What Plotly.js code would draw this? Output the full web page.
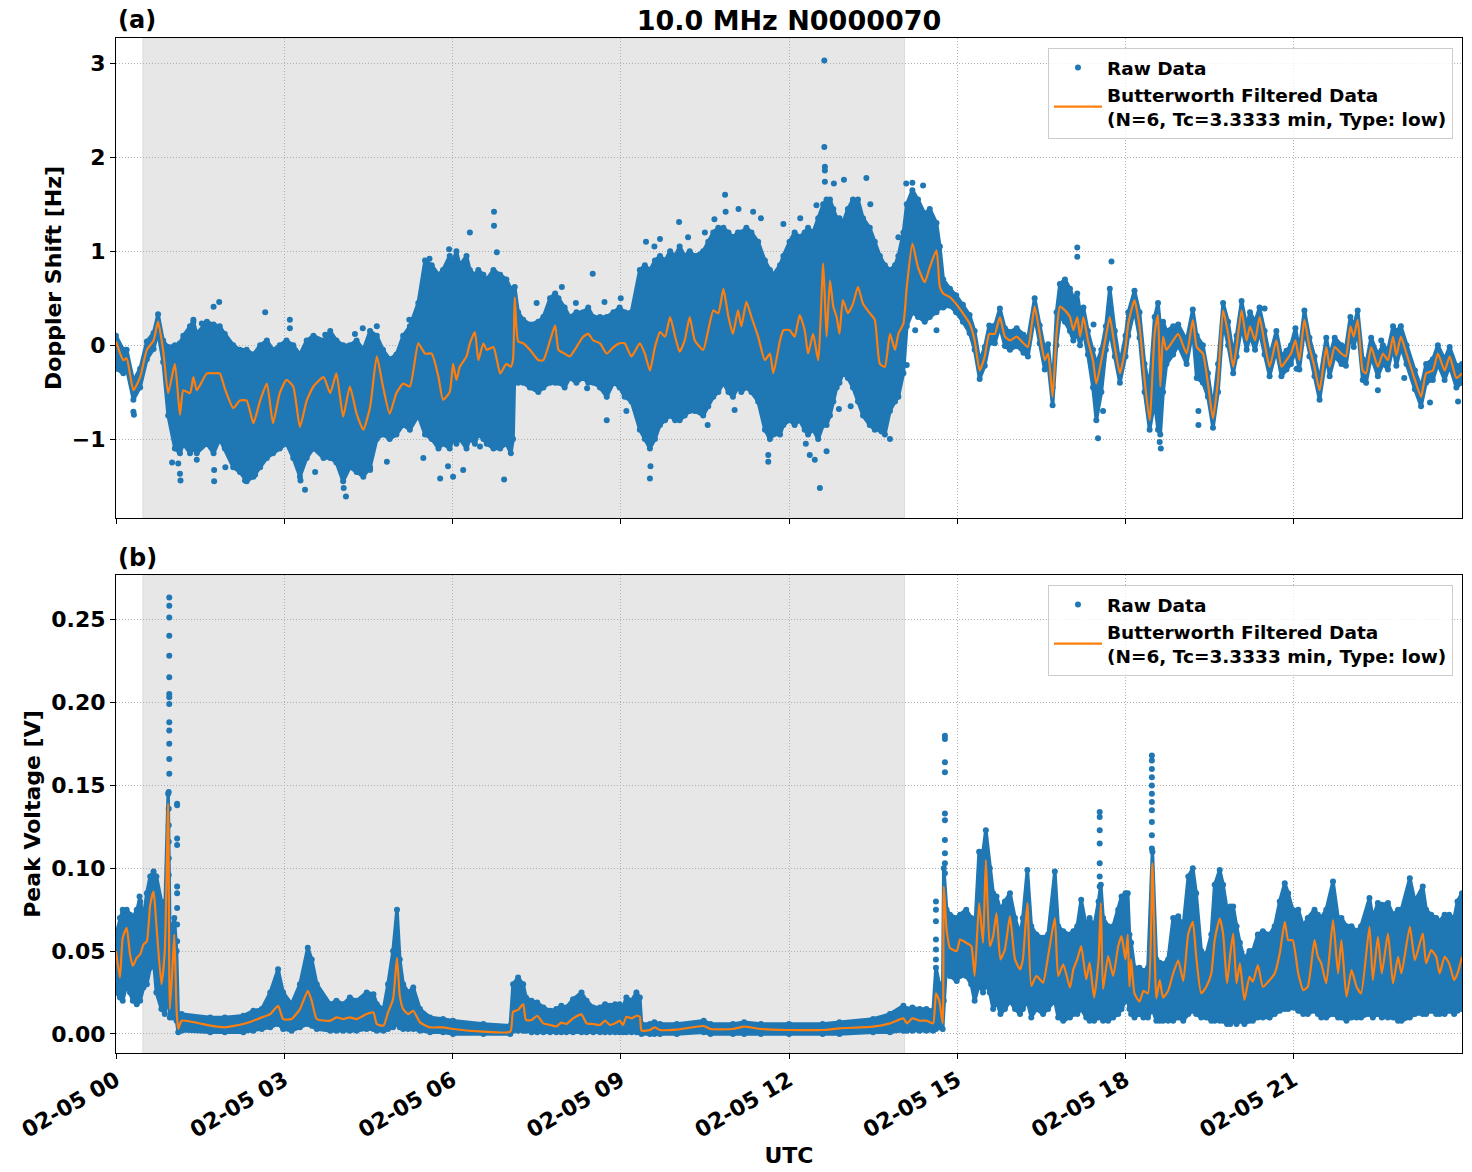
<!DOCTYPE html>
<html>
<head>
<meta charset="utf-8">
<script src="https://cdn.plot.ly/plotly-3.0.1.min.js"></script>
<style>html,body{margin:0;padding:0;background:#fff;}#chart{width:1472px;height:1172px;}</style>
</head>
<body>
<div id="chart"></div>
<script>
// ---------------- DATA (hours after 2024-02-05 00:00 UTC) ----------------
// Panel (a): Doppler shift [Hz]
const tA = [0.00,0.13,0.19,0.31,0.43,0.55,0.67,0.75,0.84,0.93,
 1.05,1.14,1.20,1.32,1.38,1.44,1.62,1.74,1.85,1.94,
 2.09,2.21,2.33,2.45,2.57,2.69,2.80,2.92,3.04,3.16,
 3.28,3.40,3.52,3.70,3.82,3.93,4.05,4.17,4.29,4.41,
 4.53,4.65,4.76,4.88,5.00,5.12,5.24,5.39,5.51,5.63,
 5.75,5.83,5.95,6.01,6.07,6.13,6.25,6.31,6.40,6.46,
 6.55,6.61,6.73,6.85,6.96,7.04,7.08,7.11,7.17,7.26,
 7.38,7.53,7.62,7.74,7.83,7.89,8.00,8.09,8.21,8.33,
 8.42,8.51,8.63,8.75,8.87,8.98,9.07,9.19,9.34,9.43,
 9.52,9.61,9.70,9.79,9.88,9.97,10.05,10.14,10.23,10.32,
 10.47,10.56,10.65,10.74,10.83,10.92,11.00,11.09,11.15,11.24,
 11.33,11.45,11.57,11.66,11.72,11.84,11.90,12.01,12.10,12.19,
 12.28,12.34,12.43,12.52,12.61,12.67,12.73,12.79,12.85,12.90,
 12.96,13.05,13.14,13.23,13.32,13.44,13.53,13.62,13.71,13.80,
 13.89,13.95,14.04,14.10,14.20,14.30,14.42,14.51,14.63,14.69,
 14.75,14.87,14.98,15.10,15.22,15.31,15.40,15.49,15.57,15.67,
 15.76,15.85,15.94,16.06,16.18,16.26,16.38,16.47,16.56,16.62,
 16.70,16.77,16.83,16.92,17.01,17.07,17.14,17.19,17.25,17.33,
 17.42,17.48,17.57,17.65,17.72,17.81,17.90,18.00,18.05,18.16,
 18.25,18.34,18.43,18.52,18.58,18.62,18.67,18.73,18.85,18.94,
 19.09,19.20,19.27,19.38,19.47,19.56,19.65,19.74,19.83,19.92,
 19.98,20.07,20.16,20.22,20.31,20.39,20.48,20.57,20.69,20.78,
 20.87,20.95,21.03,21.10,21.19,21.28,21.37,21.46,21.58,21.64,
 21.73,21.85,21.93,22.01,22.07,22.14,22.23,22.29,22.38,22.50,
 22.59,22.68,22.77,22.83,22.91,23.01,23.16,23.27,23.36,23.48,
 23.57,23.69,23.78,23.90,24.00];
const filtA = [0.04,-0.16,-0.14,-0.48,-0.34,-0.05,0.05,0.25,-0.05,-0.51,
 -0.20,-0.74,-0.48,-0.51,-0.34,-0.48,-0.30,-0.30,-0.30,-0.46,
 -0.67,-0.59,-0.59,-0.83,-0.59,-0.41,-0.83,-0.51,-0.37,-0.44,
 -0.87,-0.59,-0.44,-0.34,-0.51,-0.30,-0.76,-0.44,-0.73,-0.90,
 -0.66,-0.12,-0.44,-0.73,-0.51,-0.41,-0.44,0.02,-0.09,-0.09,
 -0.34,-0.58,-0.50,-0.20,-0.37,-0.23,-0.12,0.02,0.14,-0.16,
 0.02,-0.05,-0.02,-0.30,-0.20,-0.23,-0.15,0.51,0.04,0.02,
 -0.05,-0.16,-0.16,0.05,0.21,-0.05,-0.09,-0.12,-0.02,0.09,
 0.12,0.05,0.02,-0.09,-0.02,0.02,0.02,-0.12,0.02,-0.09,
 -0.27,-0.02,0.14,0.09,0.30,0.09,-0.07,0.05,0.30,0.05,
 -0.05,0.16,0.37,0.34,0.60,0.30,0.12,0.37,0.20,0.46,
 0.30,0.09,-0.16,-0.09,-0.30,0.05,0.16,0.16,0.09,0.32,
 0.16,-0.09,0.12,-0.16,0.87,0.09,0.69,0.41,0.30,0.12,
 0.48,0.34,0.44,0.62,0.44,0.34,0.27,-0.20,-0.23,0.12,
 -0.05,0.12,0.23,0.62,1.08,0.83,0.67,0.83,1.01,0.62,
 0.55,0.51,0.44,0.34,0.23,0.05,-0.27,-0.12,0.12,0.12,
 0.30,0.09,0.05,0.09,0.02,-0.02,0.41,0.12,-0.16,-0.09,
 -0.55,0.12,0.41,0.37,0.30,0.16,0.30,0.09,0.30,0.05,
 -0.16,-0.41,-0.16,0.09,0.30,-0.02,-0.30,-0.02,0.23,0.48,
 0.20,-0.37,-0.80,0.12,0.32,-0.44,0.09,-0.05,0.05,0.12,
 -0.09,0.27,-0.02,-0.09,-0.41,-0.78,-0.37,0.37,0.12,-0.23,
 -0.02,0.37,0.05,0.20,0.05,0.30,0.02,-0.23,0.05,-0.23,
 -0.16,-0.09,0.05,-0.16,0.27,-0.02,-0.23,-0.48,-0.02,-0.23,
 -0.02,-0.09,-0.12,0.20,0.09,0.27,-0.27,-0.30,-0.02,-0.23,
 -0.09,-0.16,0.09,-0.11,0.09,-0.09,-0.37,-0.55,-0.30,-0.27,
 -0.09,-0.27,-0.12,-0.35,-0.30];
const rawHiA = [0.10,-0.05,-0.05,-0.38,-0.25,0.04,0.13,0.33,0.05,-0.02,
 0.00,0.02,0.10,0.20,0.25,0.12,0.25,0.22,0.20,0.12,
 0.00,-0.05,-0.05,-0.10,0.00,0.05,-0.05,0.00,0.05,0.00,
 -0.10,0.05,0.10,0.05,0.15,0.05,0.00,0.00,0.05,-0.05,
 0.15,0.10,-0.05,-0.15,-0.10,0.10,0.20,0.45,0.90,0.85,
 0.75,0.80,0.95,0.90,1.00,0.85,0.95,0.80,0.75,0.80,
 0.75,0.70,0.80,0.75,0.70,0.60,0.60,0.62,0.35,0.27,
 0.22,0.25,0.30,0.50,0.55,0.50,0.40,0.30,0.35,0.35,
 0.40,0.30,0.30,0.30,0.35,0.40,0.35,0.35,0.80,0.85,
 0.80,0.90,0.95,0.90,1.00,0.95,1.05,0.95,1.00,0.95,
 1.00,1.10,1.20,1.25,1.25,1.20,1.15,1.20,1.20,1.25,
 1.20,1.10,0.90,0.80,0.75,0.85,0.95,1.10,1.20,1.15,
 1.20,1.25,1.20,1.35,1.50,1.55,1.55,1.45,1.35,1.35,
 1.30,1.45,1.55,1.55,1.35,1.25,1.10,0.95,0.85,0.80,
 0.85,0.95,1.20,1.50,1.65,1.55,1.40,1.45,1.30,1.05,
 0.70,0.60,0.53,0.43,0.32,0.15,-0.17,-0.02,0.21,0.21,
 0.39,0.18,0.14,0.18,0.11,0.07,0.50,0.21,-0.06,0.01,
 -0.45,0.35,0.65,0.70,0.60,0.50,0.55,0.35,0.40,0.15,
 -0.05,-0.20,-0.05,0.20,0.60,0.15,-0.20,0.10,0.35,0.58,
 0.35,-0.20,-0.45,0.30,0.45,0.20,0.25,0.15,0.20,0.22,
 0.05,0.38,0.10,0.00,-0.30,-0.68,-0.20,0.45,0.25,-0.10,
 0.10,0.47,0.20,0.35,0.25,0.40,0.15,-0.12,0.15,-0.12,
 -0.06,0.00,0.18,-0.05,0.37,0.08,-0.12,-0.38,0.08,-0.12,
 0.08,0.00,-0.02,0.30,0.20,0.37,-0.15,-0.20,0.08,-0.10,
 0.00,-0.05,0.20,0.15,0.20,0.00,-0.27,-0.45,-0.20,-0.15,
 0.00,-0.15,-0.02,-0.22,-0.20];
const rawLoA = [-0.25,-0.30,-0.25,-0.58,-0.45,-0.15,-0.04,0.14,-0.18,-0.75,
 -1.10,-1.15,-1.05,-1.15,-1.10,-1.15,-1.05,-1.15,-1.00,-1.10,
 -1.30,-1.35,-1.45,-1.40,-1.30,-1.20,-1.15,-1.10,-1.05,-1.20,
 -1.40,-1.20,-1.10,-1.20,-1.20,-1.25,-1.45,-1.30,-1.35,-1.40,
 -1.30,-1.00,-0.95,-1.00,-0.95,-0.85,-0.90,-0.75,-0.95,-1.00,
 -1.10,-1.05,-1.10,-1.00,-1.05,-1.00,-1.10,-1.00,-1.05,-0.95,
 -1.00,-1.05,-1.10,-1.10,-1.05,-1.15,-1.00,-0.20,-0.40,-0.40,
 -0.45,-0.50,-0.45,-0.40,-0.40,-0.40,-0.45,-0.35,-0.40,-0.35,
 -0.40,-0.40,-0.45,-0.55,-0.40,-0.45,-0.55,-0.60,-0.90,-1.00,
 -1.10,-1.00,-0.85,-0.80,-0.75,-0.80,-0.80,-0.75,-0.70,-0.70,
 -0.75,-0.65,-0.55,-0.50,-0.40,-0.50,-0.55,-0.45,-0.50,-0.45,
 -0.50,-0.60,-0.90,-1.00,-0.95,-0.95,-0.85,-0.80,-0.85,-0.80,
 -0.90,-0.95,-0.90,-1.00,-0.85,-0.85,-0.75,-0.60,-0.45,-0.40,
 -0.30,-0.35,-0.45,-0.60,-0.75,-0.85,-0.90,-0.90,-0.95,-0.70,
 -0.60,-0.55,-0.30,0.20,0.35,0.30,0.25,0.30,0.35,0.40,
 0.40,0.42,0.35,0.25,0.13,-0.05,-0.36,-0.22,0.02,0.02,
 0.20,-0.01,-0.05,-0.01,-0.08,-0.12,0.31,0.02,-0.26,-0.19,
 -0.64,0.00,0.30,0.25,0.15,0.05,0.12,0.00,0.15,-0.10,
 -0.45,-0.80,-0.50,-0.05,0.15,-0.12,-0.40,-0.12,0.10,0.38,
 0.08,-0.50,-0.90,-0.60,-0.90,-0.95,-0.50,-0.20,-0.10,0.00,
 -0.20,0.15,-0.35,-0.40,-0.55,-0.88,-0.50,0.25,0.00,-0.30,
 -0.12,0.20,-0.05,0.10,-0.05,0.15,-0.10,-0.33,-0.05,-0.33,
 -0.26,-0.20,-0.06,-0.26,0.17,-0.12,-0.33,-0.58,-0.12,-0.33,
 -0.12,-0.20,-0.22,0.10,-0.02,0.17,-0.37,-0.40,-0.12,-0.33,
 -0.20,-0.26,-0.02,-0.22,-0.02,-0.20,-0.47,-0.65,-0.40,-0.37,
 -0.20,-0.37,-0.22,-0.45,-0.40];
const outTA = [0.31,0.32,1.00,1.11,1.14,1.15,1.38,1.53,1.74,1.84,1.75,1.75,1.44,1.95,2.30,2.48,2.66,
 3.10,3.10,3.37,3.29,3.55,4.10,4.06,3.73,4.26,4.40,4.65,4.53,4.83,5.23,5.48,5.59,5.50,5.94,5.78,5.92,
 6.31,6.74,6.74,6.79,6.92,6.19,6.01,6.49,7.50,7.95,8.20,8.50,8.75,8.40,8.71,9.00,9.10,9.45,9.52,9.53,9.60,
 10.04,9.70,10.20,10.50,10.55,10.86,10.87,11.10,11.36,11.50,10.67,11.63,11.63,11.90,11.03,10.31,
 12.20,12.30,12.63,12.63,12.64,12.64,12.64,12.49,12.80,12.98,13.10,13.38,13.45,13.80,13.95,14.09,14.20,14.39,
 12.55,12.46,12.37,12.67,12.89,13.65,14.10,14.25,14.63,
 17.14,17.14,17.75,17.51,17.60,17.43,18.63,18.61,19.30,19.30,20.48,21.05,22.56,22.50,23.43,23.93,22.97];
const outVA = [-0.71,-0.74,-1.25,-1.26,-1.37,-1.44,0.27,0.23,0.41,0.46,-1.33,-1.45,-1.22,-1.30,-1.44,-1.38,0.35,
 0.27,0.18,-1.54,-1.44,-1.35,-1.61,-1.52,0.11,0.12,0.18,0.20,-1.33,-1.24,0.27,-1.20,0.92,0.64,1.02,-1.42,-1.29,
 1.20,1.42,1.27,0.99,-1.43,-1.33,-1.40,-1.08,0.45,0.62,0.45,0.76,-0.80,-0.46,0.46,0.50,-0.70,1.10,-1.42,-1.29,1.05,
 1.31,1.13,1.15,1.20,-0.85,1.60,1.42,1.45,1.42,1.35,1.34,-1.24,-1.17,1.29,-0.69,-0.66,
 1.35,-1.05,3.03,2.11,1.90,1.86,1.74,1.49,1.72,1.76,-0.65,1.78,1.50,-1.00,1.15,1.72,1.73,1.70,
 -1.52,-1.22,-1.17,-1.13,-0.68,-0.92,-0.21,0.16,0.16,
 1.04,0.94,0.89,-0.99,-0.70,0.22,-1.10,-1.03,-0.85,-0.70,0.39,-0.25,0.05,-0.48,-0.61,-0.60,-0.35];

// Panel (b): Peak voltage [V]
const tB = [0.00,0.07,0.12,0.19,0.25,0.30,0.37,0.43,0.49,0.55,
 0.61,0.67,0.72,0.81,0.87,0.93,0.96,1.01,1.04,1.08,
 1.11,1.17,1.68,1.94,2.27,2.45,2.60,2.75,2.89,2.98,
 3.13,3.28,3.42,3.49,3.58,3.82,3.93,4.05,4.17,4.29,
 4.47,4.59,4.65,4.77,4.85,4.94,5.01,5.06,5.12,5.21,
 5.30,5.42,5.60,5.83,6.01,6.55,7.03,7.08,7.17,7.26,
 7.31,7.41,7.51,7.62,7.74,7.85,7.94,8.03,8.15,8.30,
 8.39,8.51,8.63,8.72,8.81,8.90,8.98,9.04,9.10,9.19,
 9.28,9.34,9.37,9.52,9.60,9.70,10.00,10.48,10.60,11.00,
 11.20,11.50,12.00,12.60,12.90,13.50,13.80,14.04,14.10,14.20,
 14.33,14.45,14.57,14.62,14.68,14.74,14.76,14.81,14.87,14.99,
 15.05,15.16,15.25,15.31,15.39,15.46,15.51,15.58,15.64,15.70,
 15.77,15.85,15.94,16.03,16.12,16.17,16.25,16.32,16.41,16.53,
 16.62,16.74,16.80,16.89,17.01,17.07,17.14,17.21,17.30,17.36,
 17.44,17.52,17.56,17.60,17.69,17.78,17.87,17.93,18.00,18.04,
 18.07,18.10,18.16,18.25,18.32,18.40,18.48,18.55,18.61,18.67,
 18.76,18.85,18.94,19.03,19.12,19.20,19.26,19.35,19.44,19.53,
 19.59,19.68,19.74,19.81,19.87,19.92,19.98,20.04,20.12,20.21,
 20.27,20.36,20.45,20.57,20.66,20.75,20.84,20.90,20.98,21.08,
 21.17,21.25,21.37,21.43,21.49,21.58,21.70,21.79,21.85,21.94,
 22.03,22.12,22.20,22.35,22.41,22.50,22.57,22.68,22.77,22.86,
 22.92,23.07,23.16,23.30,23.36,23.45,23.54,23.60,23.69,23.77,
 23.86,23.92,24.00];
const filtB = [0.050,0.034,0.058,0.064,0.048,0.041,0.046,0.048,0.054,0.056,
 0.078,0.086,0.066,0.030,0.050,0.139,0.015,0.042,0.060,0.015,
 0.003,0.008,0.005,0.004,0.006,0.008,0.010,0.012,0.017,0.009,
 0.009,0.015,0.026,0.020,0.009,0.008,0.010,0.009,0.010,0.009,
 0.012,0.013,0.006,0.005,0.013,0.021,0.046,0.023,0.015,0.012,
 0.014,0.007,0.004,0.004,0.003,0.0014,0.0014,0.0135,0.0145,0.018,
 0.0084,0.0084,0.011,0.0064,0.0054,0.0045,0.0068,0.006,0.0094,0.0118,
 0.0064,0.006,0.0054,0.008,0.0054,0.0064,0.008,0.0054,0.0104,0.0094,
 0.011,0.0104,0.002,0.0024,0.004,0.0024,0.0026,0.0048,0.003,0.003,
 0.0044,0.003,0.0024,0.0024,0.0034,0.0044,0.0064,0.0094,0.0064,0.0094,
 0.008,0.008,0.0064,0.0245,0.020,0.0064,0.089,0.063,0.052,0.050,
 0.057,0.055,0.053,0.035,0.079,0.055,0.105,0.053,0.059,0.073,
 0.045,0.051,0.071,0.045,0.039,0.045,0.079,0.029,0.035,0.031,
 0.047,0.070,0.035,0.042,0.028,0.039,0.045,0.053,0.033,0.043,
 0.022,0.045,0.079,0.027,0.047,0.035,0.053,0.059,0.045,0.060,
 0.0285,0.045,0.0245,0.0195,0.026,0.0245,0.103,0.0215,0.0325,0.022,
 0.026,0.0365,0.0445,0.032,0.0606,0.0677,0.047,0.0245,0.0285,0.0365,
 0.0566,0.0697,0.0606,0.0305,0.0486,0.0606,0.0305,0.0426,0.0205,0.0345,
 0.0315,0.0415,0.0285,0.0325,0.0365,0.0486,0.0677,0.0566,0.0566,0.0365,
 0.0265,0.0285,0.0566,0.0466,0.0426,0.0305,0.0687,0.0365,0.0566,0.0225,
 0.0385,0.0285,0.0245,0.0647,0.0325,0.0586,0.0365,0.0606,0.0305,0.0466,
 0.0365,0.0647,0.0446,0.0606,0.0426,0.0506,0.0466,0.0365,0.0466,0.0426,
 0.0325,0.0365,0.0466];
const rawHiB = [0.060,0.070,0.075,0.075,0.072,0.070,0.075,0.080,0.070,0.085,
 0.095,0.098,0.095,0.080,0.070,0.145,0.060,0.065,0.070,0.050,
 0.010,0.012,0.010,0.010,0.011,0.014,0.015,0.025,0.039,0.025,
 0.018,0.030,0.052,0.045,0.030,0.018,0.020,0.018,0.022,0.020,
 0.025,0.024,0.018,0.015,0.030,0.050,0.075,0.045,0.030,0.025,
 0.028,0.015,0.010,0.009,0.008,0.006,0.005,0.030,0.034,0.030,
 0.022,0.020,0.019,0.016,0.014,0.015,0.017,0.016,0.021,0.025,
 0.020,0.016,0.016,0.018,0.017,0.018,0.018,0.016,0.022,0.020,
 0.025,0.022,0.006,0.006,0.007,0.006,0.006,0.008,0.006,0.006,
 0.007,0.006,0.006,0.006,0.007,0.009,0.012,0.017,0.015,0.016,
 0.015,0.015,0.014,0.040,0.030,0.020,0.100,0.075,0.072,0.070,
 0.072,0.075,0.070,0.060,0.110,0.110,0.123,0.100,0.085,0.083,
 0.075,0.080,0.085,0.070,0.060,0.070,0.099,0.065,0.060,0.058,
 0.060,0.098,0.065,0.062,0.060,0.062,0.065,0.081,0.065,0.070,
 0.065,0.080,0.090,0.070,0.065,0.065,0.075,0.083,0.085,0.085,
 0.060,0.055,0.040,0.040,0.038,0.040,0.110,0.045,0.043,0.042,
 0.045,0.070,0.071,0.065,0.095,0.100,0.085,0.050,0.048,0.060,
 0.090,0.099,0.090,0.075,0.077,0.077,0.065,0.055,0.045,0.050,
 0.050,0.060,0.062,0.060,0.065,0.080,0.091,0.085,0.075,0.075,
 0.065,0.070,0.075,0.072,0.070,0.075,0.092,0.070,0.070,0.065,
 0.065,0.062,0.065,0.082,0.070,0.079,0.078,0.079,0.072,0.075,
 0.075,0.094,0.080,0.089,0.075,0.072,0.070,0.068,0.072,0.072,
 0.070,0.080,0.085];
const rawLoB = [0.025,0.022,0.020,0.030,0.025,0.020,0.018,0.020,0.028,0.030,
 0.040,0.045,0.025,0.015,0.012,0.025,0.010,0.010,0.012,0.008,
 0.001,0.002,0.001,0.001,0.001,0.002,0.003,0.004,0.006,0.003,
 0.002,0.004,0.006,0.005,0.003,0.002,0.002,0.002,0.002,0.002,
 0.003,0.003,0.002,0.002,0.003,0.004,0.006,0.004,0.003,0.003,
 0.003,0.002,0.001,0.001,0.000,0.000,0.000,0.002,0.002,0.002,
 0.002,0.001,0.001,0.001,0.001,0.001,0.001,0.001,0.001,0.001,
 0.001,0.001,0.001,0.001,0.001,0.001,0.001,0.001,0.001,0.001,
 0.001,0.001,0.000,0.000,0.000,0.000,0.000,0.001,0.000,0.000,
 0.000,0.000,0.000,0.000,0.000,0.001,0.001,0.002,0.002,0.002,
 0.002,0.002,0.002,0.003,0.004,0.003,0.020,0.045,0.035,0.032,
 0.035,0.035,0.030,0.020,0.030,0.025,0.030,0.025,0.015,0.020,
 0.012,0.015,0.020,0.015,0.012,0.015,0.020,0.010,0.015,0.012,
 0.015,0.020,0.010,0.008,0.010,0.012,0.012,0.015,0.010,0.008,
 0.008,0.010,0.015,0.008,0.008,0.010,0.012,0.015,0.020,0.020,
 0.015,0.012,0.010,0.012,0.010,0.010,0.015,0.008,0.008,0.008,
 0.008,0.008,0.010,0.008,0.012,0.014,0.012,0.010,0.010,0.008,
 0.008,0.008,0.008,0.006,0.006,0.008,0.006,0.008,0.006,0.008,
 0.008,0.010,0.010,0.010,0.012,0.014,0.015,0.015,0.016,0.014,
 0.012,0.012,0.014,0.012,0.010,0.010,0.012,0.010,0.010,0.008,
 0.010,0.010,0.010,0.012,0.010,0.012,0.010,0.010,0.010,0.008,
 0.008,0.010,0.012,0.012,0.012,0.014,0.012,0.012,0.012,0.014,
 0.012,0.014,0.015];
const outTB = [0.95,0.95,0.95,0.95,0.95,0.95,0.95,0.95,0.95,0.95,0.95,0.95,0.95,0.95,0.94,0.94,0.94,0.94,0.94,0.94,
 1.09,1.09,1.09,1.09,1.09,1.09,1.09,1.09,1.09,0.42,0.42,
 14.62,14.62,14.62,14.62,14.62,14.62,
 14.78,14.78,14.78,14.78,14.78,14.78,14.78,14.78,14.78,14.78,
 17.54,17.54,17.54,17.54,17.54,17.54,17.54,
 18.47,18.47,18.47,18.47,18.47,18.47,18.47,18.47,18.47,18.47,18.47];
const outVB = [0.2635,0.2584,0.2514,0.2404,0.2283,0.2153,0.2052,0.2032,0.1992,0.1882,0.1831,0.1751,0.166,0.157,0.146,0.136,0.126,0.116,0.106,0.096,
 0.139,0.138,0.118,0.114,0.089,0.085,0.076,0.066,0.056,0.083,0.078,
 0.080,0.075,0.068,0.057,0.051,0.045,
 0.180,0.178,0.164,0.158,0.133,0.129,0.117,0.109,0.103,0.097,
 0.134,0.131,0.123,0.115,0.103,0.095,0.089,
 0.168,0.165,0.160,0.155,0.150,0.145,0.140,0.135,0.128,0.120,0.112];

// Shaded interval, tick positions (hours) and labels
const shadeStartH = 0.48, shadeEndH = 14.06;
const tickHours = [0, 3, 6, 9, 12, 15, 18, 21];
const mainTitle = "10.0 MHz N0000070";
const panelLabels = ["(a)", "(b)"];
const yTitles = ["Doppler Shift [Hz]", "Peak Voltage [V]"];
const xTitle = "UTC";
const legendRaw = "Raw Data";
const legendFilt = "Butterworth Filtered Data<br>(N=6, Tc=3.3333 min, Type: low)";

// ---------------- helpers ----------------
const T0 = Date.UTC(2024, 1, 5);
function toDate(h) {
  return new Date(T0 + Math.round(h * 3600000)).toISOString().replace('T', ' ').replace('Z', '');
}
const D = arr => arr.map(toDate);
const rev = arr => arr.slice().reverse();

const BLUE = '#1f77b4', ORANGE = '#ff7f0e';
const FONT = 'DejaVu Sans';

function panelTraces(t, filt, hi, lo, outT, outV, xa, ya, leg) {
  return [
    { x: D(t).concat(D(rev(t))), y: hi.concat(rev(lo)), type: 'scatter', mode: 'lines',
      fill: 'toself', fillcolor: BLUE, line: { color: BLUE, width: 3.5 },
      xaxis: xa, yaxis: ya, showlegend: false, hoverinfo: 'skip', legend: leg },
    { x: D(t).concat(D(t), D(outT)), y: hi.concat(lo, outV), type: 'scatter', mode: 'markers',
      marker: { color: BLUE, size: 6, line: { width: 0 } }, name: legendRaw,
      xaxis: xa, yaxis: ya, legend: leg },
    { x: D(t), y: filt, type: 'scatter', mode: 'lines',
      line: { color: ORANGE, width: 2.2, shape: 'spline', smoothing: 0.5 },
      name: legendFilt, xaxis: xa, yaxis: ya, legend: leg }
  ];
}

const data = panelTraces(tA, filtA, rawHiA, rawLoA, outTA, outVA, 'x2', 'y', 'legend')
  .concat(panelTraces(tB, filtB, rawHiB, rawLoB, outTB, outVB, 'x', 'y2', 'legend2'));

const tickFont = { family: FONT, size: 22, color: '#000', weight: 'bold' };
const titleFont = { family: FONT, size: 22, color: '#000', weight: 'bold' };
const gridStyle = { showgrid: true, gridcolor: '#b0b0b0', griddash: '1px,2px', gridwidth: 1 };
const axisStyle = Object.assign({ showline: true, linecolor: '#000', linewidth: 1, mirror: true,
  ticks: 'outside', ticklen: 5, tickwidth: 1, tickcolor: '#000', zeroline: false, tickfont: tickFont }, gridStyle);

const xCommon = Object.assign({}, axisStyle, {
  type: 'date', range: [toDate(0), toDate(24)], tickmode: 'array', tickvals: D(tickHours),
  tickformat: '%m-%d %H' });

const legendStyle = { bgcolor: 'rgba(255,255,255,0.8)', bordercolor: '#cccccc', borderwidth: 1,
  font: { family: FONT, size: 18.5, color: '#000', weight: 'bold' }, xanchor: 'right', yanchor: 'top',
  x: 0.9933, itemwidth: 48, tracegroupgap: 0 };

const layout = {
  width: 1472, height: 1172,
  margin: { l: 116, r: 10, t: 38, b: 119, pad: 0 },
  paper_bgcolor: '#fff', plot_bgcolor: '#fff',
  font: { family: FONT, color: '#000' },
  title: { text: mainTitle, font: { family: FONT, size: 27, color: '#000', weight: 'bold' },
    x: 0.5, xref: 'paper', y: 1 - 21 / 1172, yref: 'container', yanchor: 'middle' },
  xaxis: Object.assign({}, xCommon, { anchor: 'y2', domain: [0, 1], tickangle: -30,
    title: { text: xTitle, font: titleFont, standoff: 2 } }),
  xaxis2: Object.assign({}, xCommon, { anchor: 'y', domain: [0, 1], matches: 'x', showticklabels: false }),
  yaxis: Object.assign({}, axisStyle, { domain: [0.5271, 1], anchor: 'x2', range: [-1.84, 3.27],
    dtick: 1, tick0: 0, title: { text: yTitles[0], font: titleFont, standoff: 4 } }),
  yaxis2: Object.assign({}, axisStyle, { domain: [0, 0.4709], anchor: 'x', range: [-0.0115, 0.277],
    dtick: 0.05, tick0: 0, tickformat: '.2f', title: { text: yTitles[1], font: titleFont, standoff: 4 } }),
  legend: Object.assign({}, legendStyle, { y: 0.9901 }),
  legend2: Object.assign({}, legendStyle, { y: 0.4610 }),
  shapes: [
    { type: 'rect', xref: 'x2', yref: 'y domain', x0: toDate(shadeStartH), x1: toDate(shadeEndH), y0: 0, y1: 1,
      fillcolor: '#e7e7e7', line: { color: '#dcdcdc', width: 1 }, layer: 'below' },
    { type: 'rect', xref: 'x', yref: 'y2 domain', x0: toDate(shadeStartH), x1: toDate(shadeEndH), y0: 0, y1: 1,
      fillcolor: '#e7e7e7', line: { color: '#dcdcdc', width: 1 }, layer: 'below' }
  ],
  annotations: [
    { text: panelLabels[0], xref: 'paper', yref: 'paper', x: 0, y: 1 + 18 / 1015, xanchor: 'left', yanchor: 'middle',
      showarrow: false, font: { family: FONT, size: 24, color: '#000', weight: 'bold' } },
    { text: panelLabels[1], xref: 'paper', yref: 'paper', x: 0, y: (1053 - 558) / 1015, xanchor: 'left', yanchor: 'middle',
      showarrow: false, font: { family: FONT, size: 24, color: '#000', weight: 'bold' } }
  ],
  showlegend: true
};

Plotly.newPlot('chart', data, layout, { displayModeBar: false, staticPlot: true });
</script>
</body>
</html>
